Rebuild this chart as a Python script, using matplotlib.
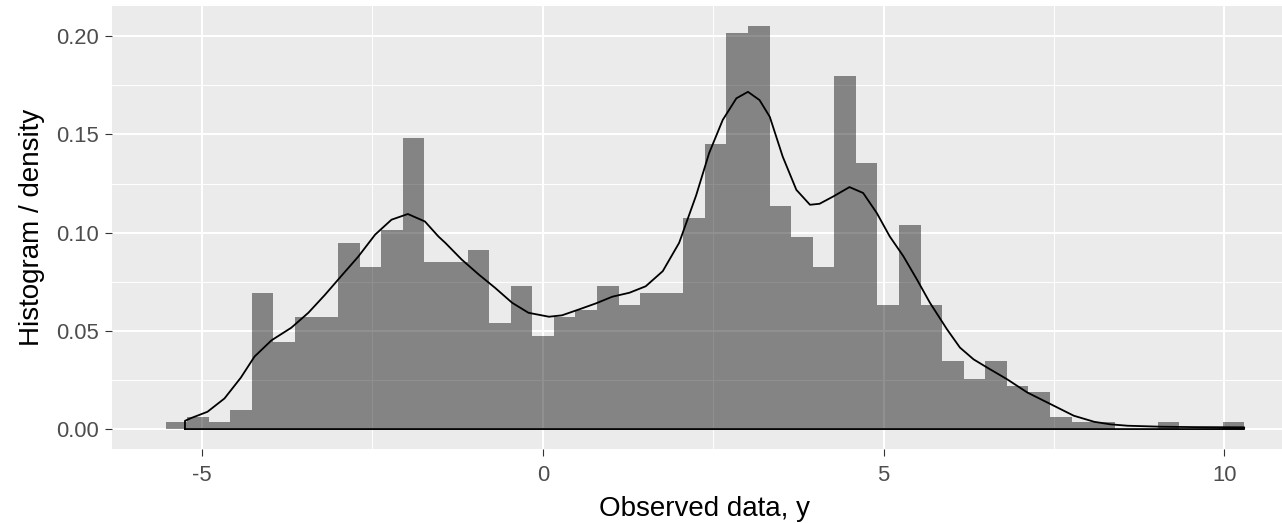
import numpy as np
import matplotlib.pyplot as plt
from matplotlib.ticker import MultipleLocator

plt.rcParams['font.family'] = ['Liberation Sans', 'DejaVu Sans']

# histogram (density scale), 50 equal bins
bin_lo, bin_hi = -5.534, 10.289
hist_density = [0.0034, 0.0062, 0.0034, 0.0096, 0.0694, 0.0443, 0.0569, 0.0569, 0.0948, 0.0824,
                0.1012, 0.1482, 0.0852, 0.0852, 0.0914, 0.0540, 0.0726, 0.0474, 0.0570, 0.0604,
                0.0726, 0.0631, 0.0692, 0.0692, 0.1073, 0.1452, 0.2017, 0.2051, 0.1134, 0.0976,
                0.0824, 0.1799, 0.1355, 0.0631, 0.1039, 0.0631, 0.0345, 0.0254, 0.0345, 0.0220,
                0.0191, 0.0063, 0.0034, 0.0034, 0.0, 0.0, 0.0034, 0.0, 0.0, 0.0034]

# kernel density estimate of y
dens_x = [-5.25, -5.16, -4.92, -4.67, -4.43, -4.23, -3.98, -3.69, -3.44, -3.20,
          -2.95, -2.71, -2.46, -2.22, -1.98, -1.73, -1.53, -1.43, -1.19, -0.94,
          -0.70, -0.45, -0.21, 0.09, 0.28, 0.53, 0.78, 1.02, 1.27, 1.51,
          1.76, 2.00, 2.25, 2.44, 2.64, 2.84, 3.01, 3.18, 3.33, 3.52,
          3.72, 3.92, 4.06, 4.26, 4.50, 4.70, 4.90, 5.09, 5.29, 5.49,
          5.68, 5.93, 6.12, 6.32, 6.52, 6.81, 7.11, 7.45, 7.79, 8.09,
          8.33, 8.58, 9.07, 9.56, 10.29]
dens_y = [0.0042, 0.0056, 0.0088, 0.0156, 0.0262, 0.0369, 0.0452, 0.0516, 0.0592, 0.0682,
          0.0782, 0.0877, 0.0990, 0.1066, 0.1095, 0.1057, 0.0980, 0.0948, 0.0863, 0.0787,
          0.0719, 0.0643, 0.0592, 0.0572, 0.0579, 0.0609, 0.0640, 0.0674, 0.0694, 0.0727,
          0.0804, 0.0948, 0.1190, 0.1405, 0.1574, 0.1684, 0.1717, 0.1675, 0.1590, 0.1387,
          0.1218, 0.1142, 0.1147, 0.1184, 0.1232, 0.1202, 0.1100, 0.0981, 0.0880, 0.0761,
          0.0643, 0.0508, 0.0415, 0.0355, 0.0313, 0.0254, 0.0186, 0.0127, 0.0068, 0.0037,
          0.0024, 0.0017, 0.0012, 0.0010, 0.0009]

edges = np.linspace(bin_lo, bin_hi, len(hist_density) + 1)

W, H = 1282, 523
fig = plt.figure(figsize=(W / 100, H / 100), dpi=100)
ax = fig.add_axes([111.7 / W, 1 - 449.3 / H, (1298 - 111.7) / W, (449.3 - 6) / H])
ax.set_facecolor('#EBEBEB')
for s in ax.spines.values():
    s.set_visible(False)

ax.bar(edges[:-1], hist_density, width=np.diff(edges), align='edge',
       color='black', alpha=0.435, linewidth=0, zorder=2)

# density outline drawn as a closed polygon, like geom_density
px = [dens_x[0]] + dens_x + [dens_x[-1], dens_x[0]]
py = [0] + dens_y + [0, 0]
ax.plot(px, py, color='black', lw=1.3, zorder=3, solid_joinstyle='round')

ax.set_xlim(-6.325, 11.08)
ax.set_ylim(-0.0103, 0.2154)
ax.xaxis.set_major_locator(MultipleLocator(5))
ax.xaxis.set_minor_locator(MultipleLocator(2.5))
ax.yaxis.set_major_locator(MultipleLocator(0.05))
ax.yaxis.set_minor_locator(MultipleLocator(0.025))
ax.set_yticks([0, 0.05, 0.10, 0.15, 0.20])
ax.set_yticklabels(['0.00', '0.05', '0.10', '0.15', '0.20'])
ax.set_xticks([-5, 0, 5, 10])
ax.set_xticklabels(['-5', '0', '5', '10'])

ax.grid(which='major', color='white', lw=1.45, zorder=0)
ax.grid(which='minor', color='white', lw=0.7, zorder=0)
ax.set_axisbelow(True)
ax.tick_params(which='major', length=5.3, width=0.8, color='#333333',
               labelcolor='#4D4D4D', labelsize=15.8, pad=4)
ax.tick_params(axis='x', which='major', pad=6)
ax.tick_params(which='minor', length=0)

ax.set_xlabel('Observed data, y', fontsize=20, labelpad=7)
ax.set_ylabel('Histogram / density', fontsize=20, labelpad=8)

fig.savefig('out.png', dpi=100)
